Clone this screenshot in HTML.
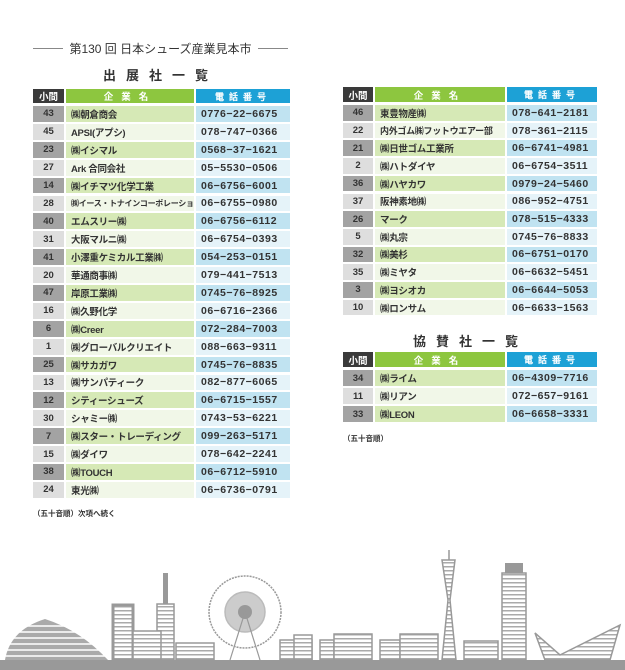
<!DOCTYPE html>
<html><head><meta charset="utf-8"><style>
body{margin:0;width:625px;height:670px;background:#fff;position:relative;overflow:hidden;font-family:"Liberation Sans","Noto Sans CJK JP",sans-serif;color:#333}
.t{position:absolute}
.r{display:flex;position:absolute;left:0;right:0}
.r div{height:calc(100% - 2px);display:flex;align-items:center;font-weight:bold;font-size:9.5px;white-space:nowrap;overflow:hidden}
.n{justify-content:center;margin-right:2px}
.m{padding-left:5px;margin-right:2px;box-sizing:border-box;letter-spacing:-0.3px}
.p{padding-left:5px;box-sizing:border-box;font-size:10.5px!important;letter-spacing:0.5px;font-family:"Liberation Sans",sans-serif}
.h .n{background:#3a3a3a;color:#fff}
.h .m{background:#8dc63f;color:#fff;justify-content:center;padding:0;letter-spacing:8px}
.h .p{background:#1da1d6;color:#fff;justify-content:center;padding:0;letter-spacing:5px;font-size:9px!important}
.o .n{background:#a3a3a3}.o .m{background:#d6e9b6}.o .p{background:#c0e3f1}
.e .n{background:#dedede}.e .m{background:#f1f7e8}.e .p{background:#e5f3f9}
.ttl{position:absolute;font-size:13px;font-weight:bold;letter-spacing:10px}
.note{position:absolute;font-size:7.5px;font-weight:bold}
</style></head><body>
<div class="t" style="left:33px;top:40px;width:255px;font-size:12px;display:flex;align-items:center"><span style="flex:1;border-top:1px solid #888;margin-right:6px"></span>第130 回 日本シューズ産業見本市<span style="flex:1;border-top:1px solid #888;margin-left:6px"></span></div>
<div class="ttl" style="left:103px;top:65px">出展社一覧</div>
<div class="ttl" style="left:413px;top:331px">協賛社一覧</div>

<div class="t" style="left:33px;top:89px;width:257px;height:420px" id="L"></div>
<div class="t" style="left:343px;top:87px;width:254px;height:240px" id="R"></div>
<div class="t" style="left:343px;top:352px;width:254px;height:80px" id="S"></div>
<div class="note" style="left:33px;top:508px">（五十音順）次項へ続く</div>
<div class="note" style="left:343px;top:433px">（五十音順）</div>

<svg class="t" style="left:0;top:530px" width="625" height="140" viewBox="0 0 625 140">
<defs><pattern id="st" width="4" height="4" patternUnits="userSpaceOnUse"><rect width="4" height="4" fill="#fff"/><rect width="4" height="1.5" fill="#aaa"/></pattern></defs>
<g fill="url(#st)" stroke="#999" stroke-width="1.5">
<rect x="0" y="130" width="625" height="10" fill="#999" stroke="none"/>
<path d="M5 130 Q10 100 45 89 Q80 100 108 130Z" fill="#aaa" stroke="none"/>
<g stroke="#fff" stroke-width="1.6"><line x1="0" y1="96" x2="110" y2="96"/><line x1="0" y1="102" x2="110" y2="102"/><line x1="0" y1="108" x2="110" y2="108"/><line x1="0" y1="114" x2="110" y2="114"/><line x1="0" y1="120" x2="110" y2="120"/><line x1="0" y1="126" x2="110" y2="126"/></g>
<rect x="113" y="75" width="20" height="55" stroke-width="3"/>
<rect x="163" y="43" width="5" height="32" fill="#999" stroke="none"/>
<rect x="157" y="74" width="17" height="56"/>
<rect x="133" y="101" width="28" height="29"/>
<rect x="176" y="113" width="38" height="17"/>
<circle cx="245" cy="82" r="36" fill="none" stroke-dasharray="2 1"/>
<circle cx="245" cy="82" r="20" fill="#ccc" stroke="#bbb"/>
<circle cx="245" cy="82" r="7" fill="#999" stroke="none"/>
<path d="M245 82 L230 130 M245 82 L260 130" fill="none" stroke-width="1.2"/>
<rect x="280" y="110" width="32" height="20"/>
<rect x="294" y="105" width="18" height="25"/>
<rect x="320" y="110" width="14" height="20"/>
<rect x="334" y="104" width="38" height="26"/>
<rect x="380" y="110" width="20" height="20"/>
<rect x="400" y="104" width="38" height="26"/>
<path d="M442 130 L448 70 L442 30 L455 30 L450 70 L456 130Z" fill="url(#st)"/>
<line x1="449" y1="20" x2="449" y2="30"/>
<rect x="464" y="111" width="34" height="19"/>
<rect x="502" y="43" width="24" height="87"/>
<rect x="505" y="33" width="18" height="10" fill="#999" stroke="none"/>
<path d="M535 103 L560 125 L620 95 L610 130 L545 130Z" fill="url(#st)"/>
</g></svg>

<script>
function build(id,rows,pitch,hh,nw,mw,pw){
 var c=document.getElementById(id),h='';
 h+='<div class="r h" style="top:0;height:'+hh+'px"><div class="n" style="width:'+nw+'px">小間</div><div class="m" style="width:'+mw+'px">企業名</div><div class="p" style="width:'+pw+'px">電話番号</div></div>';
 rows.forEach(function(r,i){
  h+='<div class="r '+(i%2?'e':'o')+'" style="top:'+(hh+1+i*pitch)+'px;height:'+pitch+'px"><div class="n" style="width:'+nw+'px">'+r[0]+'</div><div class="m" style="width:'+mw+'px">'+r[1]+'</div><div class="p" style="width:'+pw+'px">'+r[2]+'</div></div>';
 });
 c.innerHTML=h;
}
build('L',[["43","㈱朝倉商会","0776−22−6675"],["45","APSI(アプシ)","078−747−0366"],["23","㈱イシマル","0568−37−1621"],["27","Ark 合同会社","05−5530−0506"],["14","㈱イチマツ化学工業","06−6756−6001"],["28","<span style='font-size:8px'>㈱イース・トナインコーポレーション</span>","06−6755−0980"],["40","エムスリー㈱","06−6756−6112"],["31","大阪マルニ㈱","06−6754−0393"],["41","小澤重ケミカル工業㈱","054−253−0151"],["20","華通商事㈱","079−441−7513"],["47","岸原工業㈱","0745−76−8925"],["16","㈱久野化学","06−6716−2366"],["6","㈱Creer","072−284−7003"],["1","㈱グローバルクリエイト","088−663−9311"],["25","㈱サカガワ","0745−76−8835"],["13","㈱サンパティーク","082−877−6065"],["12","シティーシューズ","06−6715−1557"],["30","シャミー㈱","0743−53−6221"],["7","㈱スター・トレーディング","099−263−5171"],["15","㈱ダイワ","078−642−2241"],["38","㈱TOUCH","06−6712−5910"],["24","東光㈱","06−6736−0791"]],17.9,16,31,128,94);
build('R',[["46","東豊物産㈱","078−641−2181"],["22","<span style='font-size:9px'>内外ゴム㈱フットウエアー部</span>","078−361−2115"],["21","㈱日世ゴム工業所","06−6741−4981"],["2","㈱ハトダイヤ","06−6754−3511"],["36","㈱ハヤカワ","0979−24−5460"],["37","阪神素地㈱","086−952−4751"],["26","マーク","078−515−4333"],["5","㈱丸宗","0745−76−8833"],["32","㈱美杉","06−6751−0170"],["35","㈱ミヤタ","06−6632−5451"],["3","㈱ヨシオカ","06−6644−5053"],["10","㈱ロンサム","06−6633−1563"]],17.7,17,30,130,90);
build('S',[["34","㈱ライム","06−4309−7716"],["11","㈱リアン","072−657−9161"],["33","㈱LEON","06−6658−3331"]],18,17,30,130,90);
</script>
</body></html>
